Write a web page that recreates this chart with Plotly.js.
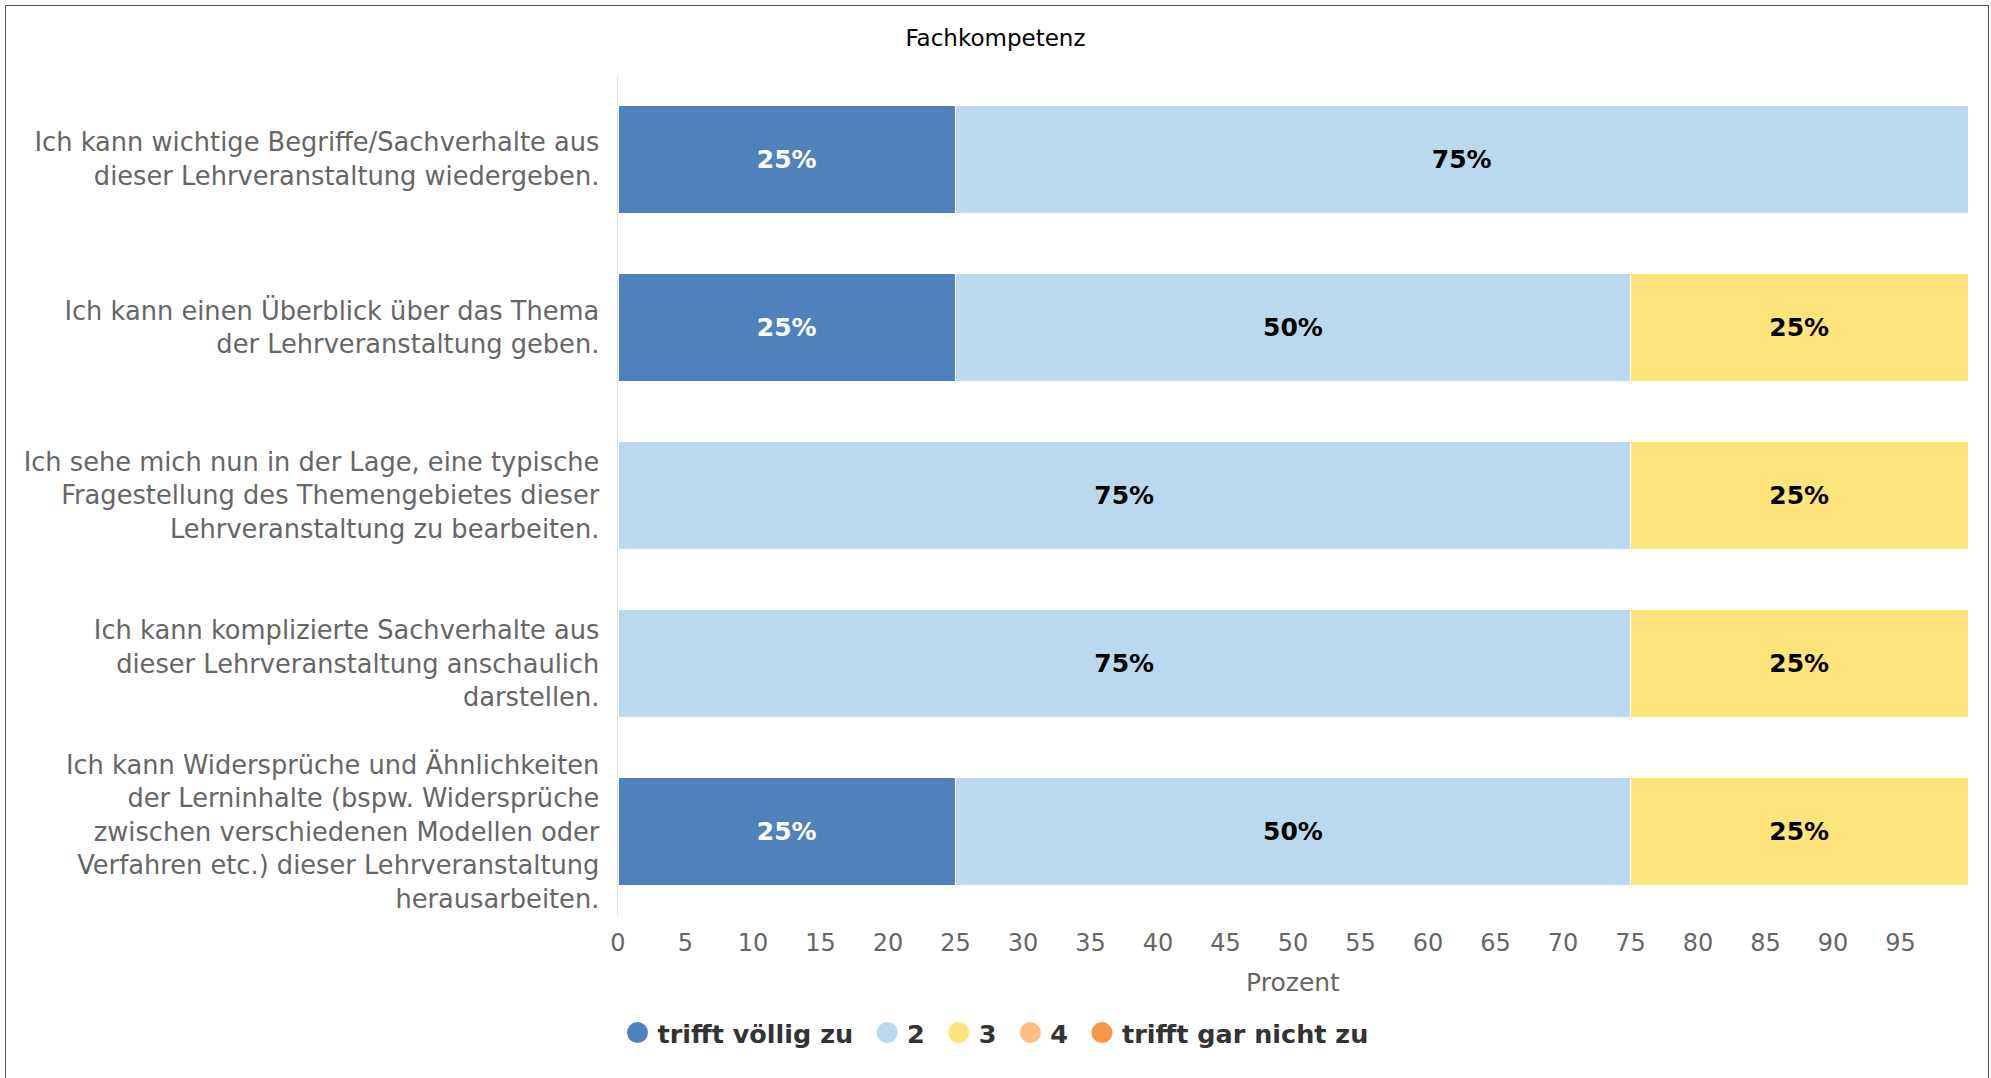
<!DOCTYPE html>
<html>
<head>
<meta charset="utf-8">
<script src="https://cdn.plot.ly/plotly-3.0.1.min.js"></script>
<style>
  html, body { margin: 0; padding: 0; background: #ffffff; overflow: hidden; }
  #chart { width: 1991px; height: 1078px; }
  #frame { position: absolute; left: 5px; top: 5px; width: 1982px; height: 1100px;
           border: 1.5px solid #555555; border-bottom: none; pointer-events: none; }
</style>
</head>
<body>
<div id="chart"></div>
<div id="frame"></div>
<script>
const chartTitle = "Fachkompetenz";
const axisTitle = "Prozent";

const categories = [
  "Ich kann wichtige Begriffe/Sachverhalte aus<br>dieser Lehrveranstaltung wiedergeben.",
  "Ich kann einen Überblick über das Thema<br>der Lehrveranstaltung geben.",
  "Ich sehe mich nun in der Lage, eine typische<br>Fragestellung des Themengebietes dieser<br>Lehrveranstaltung zu bearbeiten.",
  "Ich kann komplizierte Sachverhalte aus<br>dieser Lehrveranstaltung anschaulich<br>darstellen.",
  "Ich kann Widersprüche und Ähnlichkeiten<br>der Lerninhalte (bspw. Widersprüche<br>zwischen verschiedenen Modellen oder<br>Verfahren etc.) dieser Lehrveranstaltung<br>herausarbeiten."
];

const seriesNames = ["trifft völlig zu", "2", "3", "4", "trifft gar nicht zu"];
const s1 = [25, 25, 0, 0, 25];
const s2 = [75, 50, 75, 75, 50];
const s3 = [0, 25, 25, 25, 25];
const s4 = [0, 0, 0, 0, 0];
const s5 = [0, 0, 0, 0, 0];

const tickValues = [0, 5, 10, 15, 20, 25, 30, 35, 40, 45, 50, 55, 60, 65, 70, 75, 80, 85, 90, 95];

const colors = ["#4f81bd", "#bbd9ee", "#fee47a", "#ffbe84", "#f79646"];
const labelColors = ["#ffffff", "#000000", "#000000", "#000000", "#000000"];

const FONT = "DejaVu Sans";
const seriesValues = [s1, s2, s3, s4, s5];

const traces = [];
seriesValues.forEach((vals, i) => {
  traces.push({
    type: "bar",
    orientation: "h",
    name: seriesNames[i],
    legendgroup: "g" + i,
    showlegend: false,
    y: categories,
    x: vals.map(v => (v > 0 ? v : null)),
    marker: { color: colors[i], line: { color: "#ffffff", width: 1 } },
    texttemplate: "%{x}%",
    textposition: "inside",
    insidetextanchor: "middle",
    textangle: 0,
    constraintext: "none",
    textfont: { family: FONT, size: 25, color: labelColors[i], weight: "bold" },
    hoverinfo: "x+name"
  });
});
seriesValues.forEach((vals, i) => {
  traces.push({
    type: "scatter",
    mode: "markers",
    // trailing no-break space only widens the gap to the next legend entry
    name: seriesNames[i] + (i < seriesNames.length - 1 ? "\u00a0" : ""),
    legendgroup: "g" + i,
    showlegend: true,
    x: [null],
    y: [null],
    marker: { symbol: "circle", size: 16, color: colors[i], line: { color: colors[i], width: 5 } },
    hoverinfo: "skip"
  });
});

const layout = {
  width: 1991,
  height: 1078,
  paper_bgcolor: "#ffffff",
  plot_bgcolor: "#ffffff",
  barmode: "stack",
  bargap: 0.358,
  margin: { l: 618, r: 23, t: 75, b: 162, autoexpand: false },
  font: { family: FONT, color: "#666666" },
  title: {
    text: chartTitle,
    font: { family: FONT, size: 23, color: "#000000" },
    x: 0.5, xref: "container", xanchor: "center",
    y: 1 - 38 / 1078, yref: "container", yanchor: "middle"
  },
  xaxis: {
    range: [0, 100],
    tickmode: "array",
    tickvals: tickValues,
    ticktext: tickValues.map(String),
    showgrid: false,
    zeroline: false,
    showline: false,
    ticks: "",
    ticklabelstandoff: 10,
    tickfont: { family: FONT, size: 24, color: "#666666" },
    title: { text: axisTitle, font: { family: FONT, size: 25, color: "#666666" }, standoff: 17 },
    fixedrange: true
  },
  yaxis: {
    type: "category",
    autorange: "reversed",
    showgrid: false,
    zeroline: false,
    showline: true,
    linecolor: "#dde3ec",
    linewidth: 1.5,
    ticks: "",
    ticklabelstandoff: 12,
    tickfont: { family: FONT, size: 25.7, color: "#666666" },
    fixedrange: true
  },
  legend: {
    orientation: "h",
    xref: "container", x: 0.5, xanchor: "center",
    yref: "container", y: 1 - 1033 / 1078, yanchor: "middle",
    font: { family: FONT, size: 25.5, color: "#333333", weight: "bold" },
    itemwidth: 30,
    traceorder: "normal",
    bgcolor: "rgba(0,0,0,0)"
  },
  showlegend: true
};

Plotly.newPlot("chart", traces, layout, { displayModeBar: false, staticPlot: true });
</script>
</body>
</html>
